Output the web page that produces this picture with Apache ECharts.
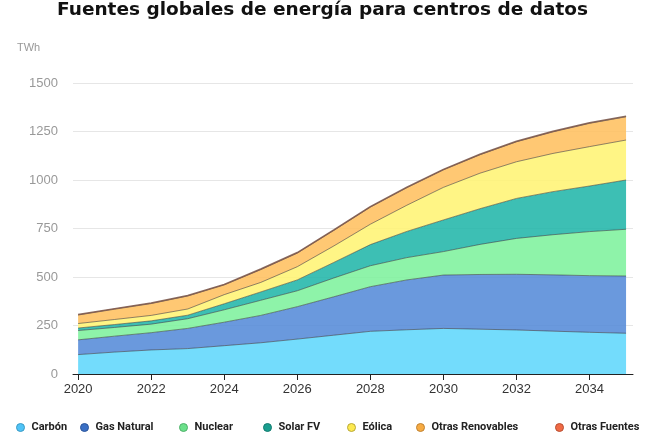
<!DOCTYPE html>
<html>
<head>
<meta charset="utf-8">
<script src="https://cdn.jsdelivr.net/npm/echarts@6/dist/echarts.min.js"></script>
<style>
html,body{margin:0;padding:0;background:#fff;}
#chart{width:661px;height:447px;}
</style>
</head>
<body>
<div id="chart"></div>
<script>
// ---- data (TWh) ----
var years = [2020,2021,2022,2023,2024,2025,2026,2027,2028,2029,2030,2031,2032,2033,2034,2035];
var carbon          = [100,113,124,131,146,161,180,200,220,228,235,231,227,221,215,210];
var gasNatural      = [ 76, 82, 89,104,121,141,167,198,230,257,275,282,287,290,292,295];
var nuclear         = [ 48, 45, 44, 50, 64, 78, 82, 97,108,115,121,155,185,207,227,241];
var solarFV         = [ 13, 15, 17, 18, 31, 43, 56, 80,109,135,163,184,206,222,235,254];
var eolica          = [ 23, 26, 28, 32, 47, 49, 68, 85,105,135,168,183,189,197,203,206];
var otrasRenovables = [ 44, 53, 61, 67, 50, 66, 70, 80, 88, 90, 90, 95,103,111,120,120];
var otrasFuentes    = [  3,  3,  3,  3,  3,  3,  3,  3,  3,  3,  3,  3,  3,  3,  3,  3];
var seriesNames = ['Carbón','Gas Natural','Nuclear','Solar FV','Eólica','Otras Renovables','Otras Fuentes'];
var xTickValues = [2020,2022,2024,2026,2028,2030,2032,2034];
var yTickMax = 1500, yTickStep = 250;

var seriesValues = [carbon, gasNatural, nuclear, solarFV, eolica, otrasRenovables, otrasFuentes];
var fillColors   = ['#5BD6FB','#5087D7','#7AF19A','#1BB4A7','#FFF370','#FFBE5A','#F46D43'];
var iconColors   = ['#4FC3F7','#3A6FC4','#6BE08A','#1A9E8F','#FDE94F','#F7AB42','#F06A45'];
var iconBorders  = ['#3A9BC4','#2B559A','#4FB06A','#127A6E','#B8A838','#C08232','#B84E32'];
var legendLeft   = [16, 80, 179, 263, 347, 416, 555];

var chart = echarts.init(document.getElementById('chart'), null, {renderer:'canvas'});

var series = seriesNames.map(function(name, k){
  var last = k === seriesNames.length - 1;
  return {
    name: name,
    type: 'line',
    stack: 'total',
    symbol: 'none',
    // [value, year] so that the stacked dimension is the value (y)
    encode: {x: 1, y: 0},
    data: years.map(function(y, i){ return [seriesValues[k][i], y]; }),
    itemStyle: {color: iconColors[k]},
    lineStyle: last ? {color:'#7d5c50', width:1.5, opacity:0.9} : {color:'#333', width:1, opacity:0.55},
    areaStyle: {color: fillColors[k], opacity: 0.85}
  };
});

var legends = seriesNames.map(function(name, k){
  return {
    data: [{name: name, itemStyle: {color: iconColors[k], borderColor: iconBorders[k], borderWidth: 1}}],
    left: legendLeft[k],
    top: 422,
    icon: 'circle',
    itemWidth: 12,
    itemHeight: 8,
    padding: 0,
    textStyle: {fontFamily: 'Roboto', fontWeight: 'bold', fontSize: 11, color: '#222'}
  };
});

chart.setOption({
  animation: false,
  title: [
    {text: 'Fuentes globales de energía para centros de datos', left: 57, top: 1, padding: 0,
     textStyle: {fontFamily: 'DejaVu Sans', fontWeight: 'bold', fontSize: 18.5, color: '#111'}},
    {text: 'TWh', left: 17, top: 42, padding: 0,
     textStyle: {fontFamily: 'Liberation Sans', fontWeight: 'normal', fontSize: 11, color: '#999'}}
  ],
  legend: legends,
  grid: {left: 73, right: 28, top: 83, bottom: 73, containLabel: false},
  xAxis: {
    type: 'value',
    min: 2019.86,
    max: 2035.19,
    axisLine: {show: true, lineStyle: {color: '#222', width: 1}},
    axisTick: {show: true, customValues: xTickValues, length: 6, lineStyle: {color: '#222'}},
    axisLabel: {customValues: xTickValues, color: '#333', fontFamily: 'Liberation Sans', fontSize: 13, margin: 9,
                formatter: function(v){ return String(v); }},
    splitLine: {show: false}
  },
  yAxis: {
    type: 'value',
    min: 0,
    max: yTickMax,
    interval: yTickStep,
    axisLine: {show: false},
    axisTick: {show: false},
    axisLabel: {color: '#999', fontFamily: 'Liberation Sans', fontSize: 13, margin: 15,
                formatter: function(v){ return String(v); }},
    splitLine: {lineStyle: {color: '#e6e6e6', width: 1}}
  },
  series: series
});
</script>
</body>
</html>
